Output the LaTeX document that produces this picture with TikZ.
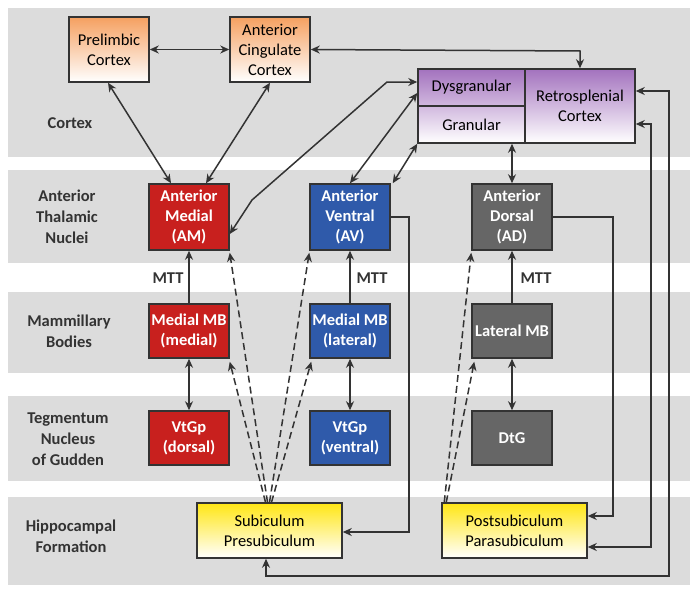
\documentclass[tikz,border=0pt]{standalone}
\usepackage{fontspec}
\setmainfont{Carlito}
\usetikzlibrary{arrows.meta}
\definecolor{band}{HTML}{DCDCDC}
\definecolor{ln}{HTML}{333333}
\definecolor{rd}{HTML}{C8201E}
\definecolor{bl}{HTML}{2F5AAA}
\definecolor{gy}{HTML}{666666}
\definecolor{orng}{HTML}{F5A060}
\definecolor{purp}{HTML}{A372BE}
\definecolor{yel}{HTML}{FFE614}
\begin{document}
\begin{tikzpicture}[x=1pt,y=-1pt,
  box/.style={draw=ln,line width=1.5pt,minimum width=80pt,minimum height=#1,inner sep=0pt,align=center,font=\fontsize{16.5}{20}\selectfont},
  box/.default=54pt,
  solid box/.style={box=#1,fill=bl,text=white,font=\fontsize{16.5}{20}\selectfont\bfseries},
  lab/.style={align=center,font=\fontsize{16.5}{21}\selectfont\bfseries,text=ln},
  ar/.style={ln,line width=1.5pt,-{Stealth[length=9pt,width=8pt]}},
  dar/.style={ar,<->,>={Stealth[length=9pt,width=8pt]}},
  dsh/.style={ar,dashed,dash pattern=on 7pt off 4pt}]
\useasboundingbox (0,0) rectangle (695,589);
\fill[white] (0,0) rectangle (695,589);
\fill[band] (8,8) rectangle (690,157);
\fill[band] (8,170) rectangle (690,263);
\fill[band] (8,292) rectangle (690,373);
\fill[band] (8,396) rectangle (690,481);
\fill[band] (8,497) rectangle (690,585);
% labels
\node[lab] (lc) at (70,123) {Cortex};
\node[lab] (lt) at (67,217) {Anterior\\Thalamic\\Nuclei};
\node[lab] (lm) at (69,331) {Mammillary\\Bodies};
\node[lab] (lg) at (68,439) {Tegmentum\\Nucleus\\of Gudden};
\node[lab] (lh) at (71,536) {Hippocampal\\Formation};
% cortex boxes
\node[box=65pt,top color=orng,bottom color=white] (pl) at (109,49.5) {Prelimbic\\Cortex};
\node[box=65pt,top color=orng,bottom color=white] (acc) at (270,49.5) {Anterior\\Cingulate\\Cortex};
\shade[top color=purp,bottom color=white] (418,69) rectangle (635,143);
\node[draw=ln,line width=1.5pt,minimum width=107pt,minimum height=37pt,inner sep=0pt,font=\fontsize{16.5}{20}\selectfont] (dys) at (471.5,87.5) {Dysgranular};
\node[draw=ln,line width=1.5pt,minimum width=107pt,minimum height=37pt,inner sep=0pt,font=\fontsize{16.5}{20}\selectfont] (gran) at (471.5,124.5) {Granular};
\node[draw=ln,line width=1.5pt,minimum width=110pt,minimum height=74pt,inner sep=0pt,align=center,font=\fontsize{16.5}{20}\selectfont] (rsc) at (580,106) {Retrosplenial\\Cortex};
% thalamic
\node[solid box=66pt,fill=rd] (am) at (189,217) {Anterior\\Medial\\(AM)};
\node[solid box=66pt,fill=bl] (av) at (350,217) {Anterior\\Ventral\\(AV)};
\node[solid box=66pt,fill=gy] (ad) at (512,217) {Anterior\\Dorsal\\(AD)};
% MB
\node[solid box=54pt,fill=rd] (mbm) at (189,331) {Medial MB\\(medial)};
\node[solid box=54pt,fill=bl] (mbl) at (350,331) {Medial MB\\(lateral)};
\node[solid box=54pt,fill=gy] (lmb) at (512,331) {Lateral MB};
% VtGp
\node[solid box=54pt,fill=rd] (vd) at (189,438) {VtGp\\(dorsal)};
\node[solid box=54pt,fill=bl] (vv) at (350,438) {VtGp\\(ventral)};
\node[solid box=54pt,fill=gy] (dtg) at (512,438) {DtG};
% hippocampal
\node[box=55pt,minimum width=145pt,top color=yel,bottom color=white] (sub) at (269.5,530.5) {Subiculum\\Presubiculum};
\node[box=55pt,minimum width=145pt,top color=yel,bottom color=white] (post) at (514.5,530.5) {Postsubiculum\\Parasubiculum};
% MTT labels
\node[lab] (m1) at (168,278) {MTT};
\node[lab] (m2) at (372,278) {MTT};
\node[lab] (m3) at (536,278) {MTT};
% arrows cortex
\draw[dar] (pl.east) -- (acc.west);
\draw[dar] (acc.east) -- (580,51) -- (rsc.north);
\draw[dar] ([xshift=-1pt]pl.south) -- ([xshift=-18pt]am.north);
\draw[dar] (acc.south) -- ([xshift=17pt]am.north);
\draw[dar] ([yshift=-17pt]am.east) -- (252,200) -- (387,82) -- (dys.west|-0,82);
\draw[dar] (av.north) -- (dys.west|-0,93);
\draw[dar] ([xshift=2pt]av.north east) -- (gran.south west);
\draw[dar] (ad.north) -- (ad.north|-gran.south);
% MTT
\draw[ar] (mbm.north) -- (am.south);
\draw[ar] (mbl.north) -- (av.south);
\draw[ar] (lmb.north) -- (ad.south);
\draw[dar] (mbm.south) -- (vd.north);
\draw[dar] (mbl.south) -- (vv.north);
\draw[dar] (lmb.south) -- (dtg.north);
% dashed
\draw[dsh] ([xshift=-2pt]sub.north) -- ([yshift=-2pt]am.south east);
\draw[dsh] ([xshift=-4pt]sub.north) -- ([yshift=-3pt]mbm.south east);
\draw[dsh] ([xshift=0pt]sub.north) -- ([yshift=-2pt]av.south west);
\draw[dsh] ([xshift=2pt]sub.north) -- ([xshift=2pt,yshift=-3pt]mbl.south west);
\draw[dsh] ([xshift=3pt]post.north west) -- ([yshift=-2pt]ad.south west);
\draw[dsh] ([xshift=5pt]post.north west) -- ([xshift=3pt,yshift=-3pt]lmb.south west);
% return loops
\draw[ar] (av.east) -- (409,217) -- (409,532) -- (sub.east|-0,532);
\draw[ar] (ad.east) -- (613,217) -- (613,516) -- (post.east|-0,516);
\draw[dar] (rsc.east|-0,91) -- (669,91) -- (669,576) -- (266,576) -- ([xshift=-3.5pt]sub.south);
\draw[dar] (rsc.east|-0,124) -- (651,124) -- (651,547) -- (post.east|-0,547);
\end{tikzpicture}
\end{document}
